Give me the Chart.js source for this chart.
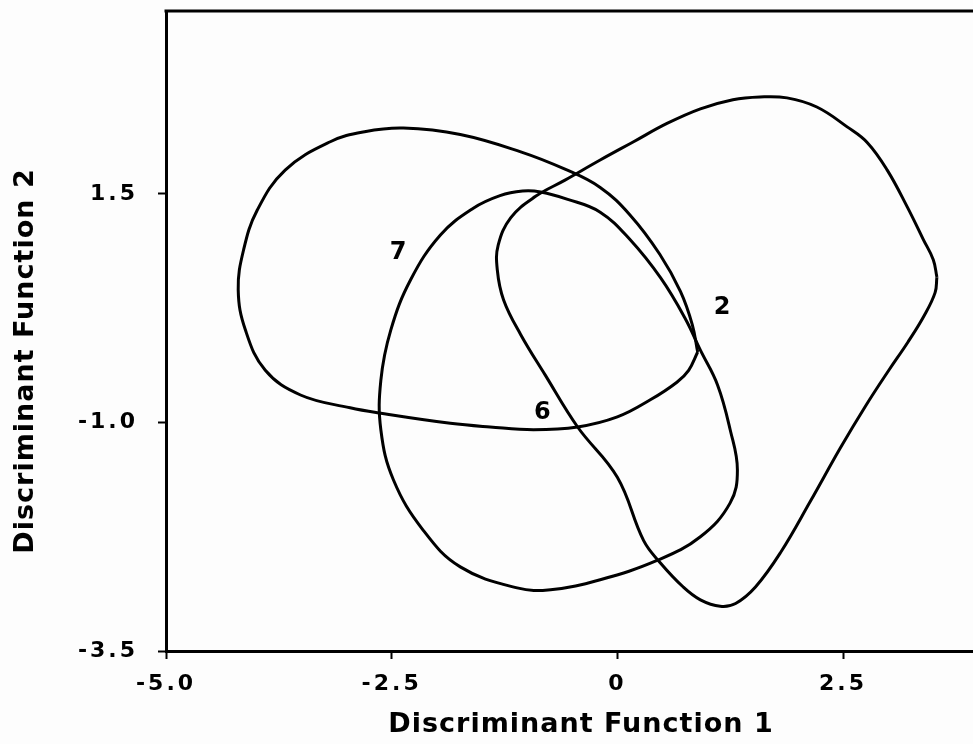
<!DOCTYPE html>
<html>
<head>
<meta charset="utf-8">
<script src="https://cdn.jsdelivr.net/npm/chart.js@4.4.0/dist/chart.umd.min.js"></script>
<style>
  html, body { margin: 0; padding: 0; background: #fdfdfd; }
  #wrap { width: 973px; height: 744px; }
</style>
</head>
<body>
<div id="wrap"><canvas id="dfChart"></canvas></div>
<script>
// axis ticks
const xTicks = [-5.0, -2.5, 0, 2.5];
const xTickLabels = ['-5.0', '-2.5', '0', '2.5'];
const yTicks = [-3.5, -1.0, 1.5];
const yTickLabels = ['-3.5', '-1.0', '1.5'];

// group 2 outline (starts at the right-hand corner)
const group2X = [3.54, 3.52, 3.40, 3.22, 3.00, 2.75, 2.47, 2.14, 1.81, 1.53, 1.31, 1.14, 0.92, 0.73, 0.48, 0.29, 0.00, -0.44, -0.80, -1.07, -1.26, -1.33, -1.32, -1.18, -0.91, -0.58, -0.19, 0.18, 0.55, 0.92, 1.28, 1.58, 1.88, 2.21, 2.55, 2.77, 2.99, 3.21, 3.39, 3.50, 3.54];
const group2Y = [0.59, 0.42, 0.17, -0.12, -0.44, -0.82, -1.28, -1.86, -2.42, -2.80, -2.98, -3.01, -2.94, -2.80, -2.54, -2.29, -1.60, -1.05, -0.48, -0.04, 0.34, 0.67, 0.94, 1.24, 1.47, 1.65, 1.87, 2.07, 2.27, 2.43, 2.53, 2.56, 2.55, 2.45, 2.23, 2.06, 1.76, 1.36, 1.00, 0.78, 0.59];

// group 6 outline (closed smoothly, no corner)
const group6X = [-2.62, -2.62, -2.48, -2.15, -1.74, -1.11, -0.74, -0.19, 0.44, 0.92, 1.25, 1.33, 1.25, 1.11, 0.92, 0.75, 0.48, 0.14, -0.19, -0.55, -0.85, -1.05, -1.30, -1.60, -1.96, -2.29, -2.51];
const group6Y = [-0.54, -1.08, -1.63, -2.18, -2.58, -2.81, -2.83, -2.72, -2.51, -2.25, -1.88, -1.52, -1.08, -0.59, -0.21, 0.14, 0.58, 1.00, 1.30, 1.44, 1.52, 1.53, 1.48, 1.34, 1.05, 0.56, 0.01];

// group 7 outline (starts at the pointed right end)
const group7X = [0.89, 0.79, 0.66, 0.37, 0.00, -0.44, -0.93, -1.41, -1.85, -2.62, -2.96, -3.51, -3.90, -4.12, -4.20, -4.14, -3.99, -3.68, -3.18, -2.80, -2.37, -1.74, -1.07, -0.58, -0.19, 0.14, 0.47, 0.70, 0.83, 0.89];
const group7Y = [-0.23, -0.43, -0.56, -0.75, -0.94, -1.05, -1.08, -1.05, -1.01, -0.90, -0.84, -0.70, -0.43, 0.01, 0.45, 0.89, 1.32, 1.76, 2.07, 2.18, 2.22, 2.15, 1.96, 1.77, 1.57, 1.27, 0.84, 0.43, 0.07, -0.23];

// group numbers written inside the outlines
const groupNames = ['2', '6', '7'];
const groupLabelX = [1.16, -0.83, -2.43];
const groupLabelY = [0.25, -0.89, 0.86];

function toPoints(xs, ys) {
    return xs.map((x, i) => ({ x: x, y: ys[i] }));
}

function outline(xs, ys) {
    return {
        data: toPoints(xs, ys),
        showLine: true,
        borderColor: '#000',
        borderWidth: 3,
        pointRadius: 0,
        tension: 0.4,
        fill: false
    };
}

// a loop with no corner: pad both ends with the neighbouring points so every
// visible piece gets proper tangents, then hide the two padding pieces
function smoothLoop(xs, ys) {
    const pts = toPoints(xs, ys);
    const n = pts.length;
    const data = [pts[n - 1], ...pts, pts[0], pts[1]];
    const last = data.length - 1;
    const ds = outline(xs, ys);
    ds.data = data;
    ds.segment = {
        borderColor: c => (c.p0DataIndex === 0 || c.p1DataIndex === last) ? 'rgba(0,0,0,0)' : undefined
    };
    return ds;
}

const paper = {
    id: 'paper',
    beforeDraw(chart) {
        const ctx = chart.ctx;
        ctx.save();
        ctx.fillStyle = '#fdfdfd';
        ctx.fillRect(0, 0, chart.width, chart.height);
        ctx.restore();
        // wide plotter-style spacing for the tick numbers
        ctx.letterSpacing = '3px';
    }
};

const frameTop = {
    id: 'frameTop',
    afterDraw(chart) {
        const { ctx, chartArea } = chart;
        ctx.save();
        ctx.strokeStyle = '#000';
        ctx.lineWidth = 3;
        ctx.beginPath();
        ctx.moveTo(chartArea.left - 1.5, chartArea.top);
        ctx.lineTo(chartArea.right, chartArea.top);
        ctx.stroke();
        ctx.restore();
    }
};

const groupLabels = {
    id: 'groupLabels',
    afterDatasetsDraw(chart) {
        const { ctx, scales } = chart;
        ctx.save();
        ctx.letterSpacing = '0px';
        ctx.fillStyle = '#000';
        ctx.font = 'bold 24px "DejaVu Sans"';
        ctx.textAlign = 'center';
        ctx.textBaseline = 'middle';
        groupNames.forEach((name, i) => {
            ctx.fillText(name, scales.x.getPixelForValue(groupLabelX[i]), scales.y.getPixelForValue(groupLabelY[i]));
        });
        ctx.restore();
    }
};

const axisTitles = {
    id: 'axisTitles',
    afterDraw(chart) {
        const { ctx, chartArea } = chart;
        ctx.save();
        ctx.letterSpacing = '1px';
        ctx.fillStyle = '#000';
        ctx.font = 'bold 27px "DejaVu Sans"';
        ctx.textAlign = 'center';
        ctx.textBaseline = 'middle';
        ctx.fillText('Discriminant Function 1', chartArea.left + 415, chartArea.bottom + 74);
        ctx.translate(26, chartArea.top + 350);
        ctx.rotate(-Math.PI / 2);
        ctx.fillText('Discriminant Function 2', 0, 0);
        ctx.restore();
    }
};

const tickFont = { family: 'DejaVu Sans', weight: 'bold', size: 22 };

const ctx = document.getElementById('dfChart').getContext('2d');

new Chart(ctx, {
    type: 'scatter',
    data: {
        datasets: [
            outline(group2X, group2Y),
            smoothLoop(group6X, group6Y),
            outline(group7X, group7Y)
        ]
    },
    options: {
        responsive: true,
        maintainAspectRatio: false,
        animation: false,
        layout: { padding: { top: 11, right: 0, left: 0, bottom: 0 } },
        plugins: {
            legend: { display: false },
            tooltip: { enabled: false }
        },
        scales: {
            x: {
                type: 'linear',
                min: -5,
                max: 3.94,
                afterBuildTicks: s => { s.ticks = xTicks.map(v => ({ value: v })); },
                afterFit: s => {
                    s.height = 93;
                    s.paddingLeft = 0;
                    s.paddingRight = 0;
                },
                grid: { drawOnChartArea: false, drawTicks: true, tickLength: 8, tickWidth: 2, tickColor: '#000' },
                border: { display: true, color: '#000', width: 3 },
                ticks: {
                    color: '#000',
                    font: tickFont,
                    padding: 12,
                    maxRotation: 0,
                    autoSkip: false,
                    callback: v => xTickLabels[xTicks.indexOf(v)]
                }
            },
            y: {
                type: 'linear',
                min: -3.5,
                max: 3.5,
                afterBuildTicks: s => { s.ticks = yTicks.map(v => ({ value: v })); },
                afterFit: s => {
                    s.width = 166;
                    s.paddingTop = 0;
                    s.paddingBottom = 0;
                },
                grid: { drawOnChartArea: false, drawTicks: true, tickLength: 8, tickWidth: 2, tickColor: '#000' },
                border: { display: true, color: '#000', width: 3 },
                ticks: {
                    color: '#000',
                    font: tickFont,
                    padding: 20,
                    autoSkip: false,
                    callback: v => yTickLabels[yTicks.indexOf(v)]
                }
            }
        }
    },
    plugins: [paper, frameTop, groupLabels, axisTitles]
});
</script>
</body>
</html>
